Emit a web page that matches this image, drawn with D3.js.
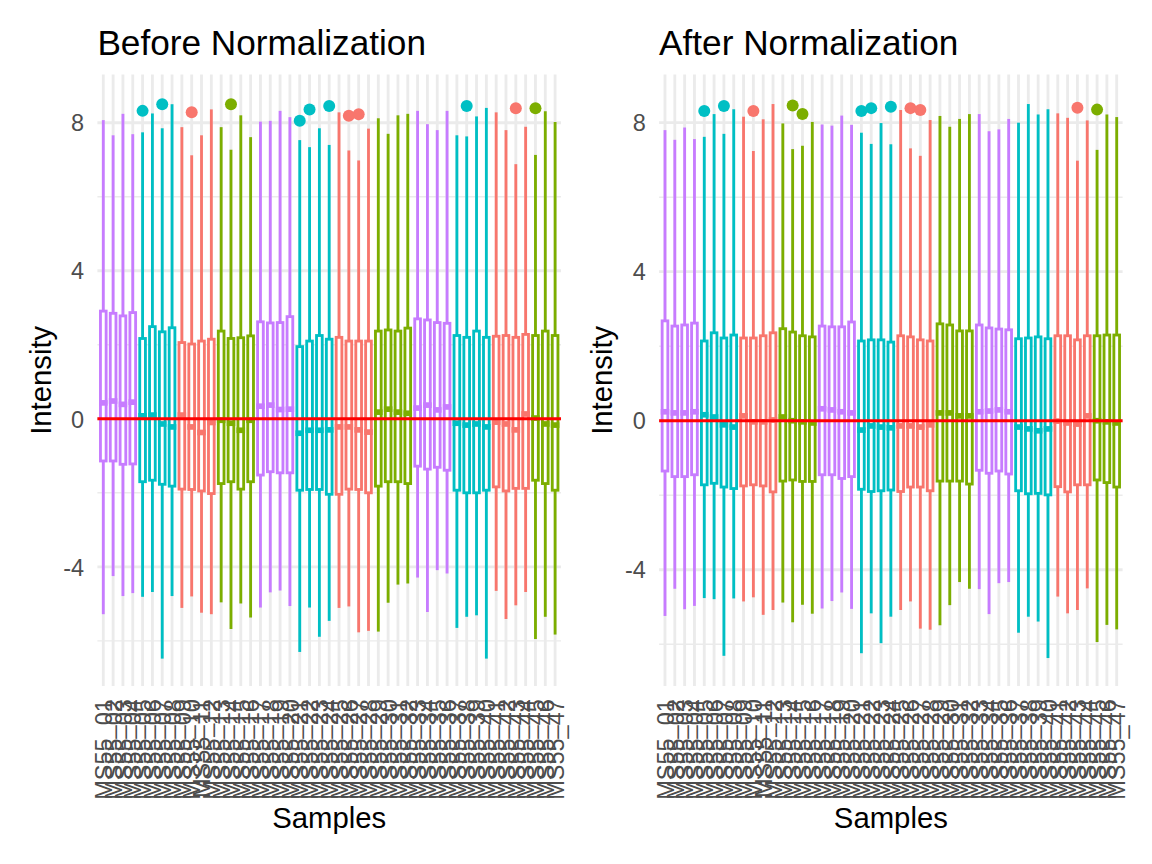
<!DOCTYPE html>
<html><head><meta charset="utf-8">
<script src="https://cdn.jsdelivr.net/npm/d3@7"></script>
<style>body{margin:0;background:#fff}svg{display:block}</style>
</head><body>
<svg id="c" width="1152" height="864"></svg>
<script>
// ---------- data ----------
const samples = d3.range(1, 48).map(i => "MS55_" + String(i).padStart(2, "0"));
const groupOf = [
  "G4","G4","G4","G4","G3","G3","G3","G3","G1","G1","G1","G1","G2","G2","G2","G2",
  "G4","G4","G4","G4","G3","G3","G3","G3","G1","G1","G1","G1","G2","G2","G2","G2",
  "G4","G4","G4","G4","G3","G3","G3","G3","G1","G1","G1","G1","G2","G2","G2"];
const groupNames = ["G1","G2","G3","G4"];
const groupColors = ["#F8766D","#7CAE00","#00BFC4","#C77CFF"];

// Before normalization
const beforeHigh = [8.07,7.66,8.24,7.69,7.74,8.25,7.85,8.50,7.88,7.12,7.66,8.36,7.88,7.27,8.20,7.61,
  8.03,8.05,8.32,8.15,7.53,7.34,7.85,7.40,8.28,7.25,6.98,7.84,8.12,7.70,8.20,8.24,
  8.32,7.96,7.80,8.32,7.66,7.63,8.17,8.40,8.28,7.80,6.88,7.89,7.13,8.31,8.02];
const beforeQ3 = [2.91,2.85,2.78,2.87,2.17,2.49,2.35,2.46,2.06,2.02,2.10,2.15,2.37,2.17,2.19,2.24,
  2.62,2.59,2.60,2.76,1.95,2.10,2.25,2.15,2.20,2.10,2.10,2.10,2.37,2.40,2.37,2.45,
  2.70,2.67,2.60,2.58,2.25,2.20,2.37,2.20,2.23,2.25,2.20,2.28,2.25,2.37,2.25];
const beforeMed = [0.43,0.48,0.39,0.45,0.08,0.10,-0.14,-0.22,0.10,-0.22,-0.37,-0.10,-0.04,-0.12,-0.31,-0.04,
  0.34,0.37,0.25,0.26,-0.39,-0.31,-0.31,-0.30,-0.22,-0.22,-0.30,-0.36,0.18,0.26,0.18,0.15,
  0.29,0.37,0.24,0.32,-0.12,-0.17,-0.14,-0.22,-0.09,-0.14,-0.30,0.13,0.02,-0.14,-0.17];
const beforeQ1 = [-1.14,-1.14,-1.23,-1.22,-1.70,-1.66,-1.77,-1.82,-1.90,-1.91,-1.95,-2.02,-1.75,-1.70,-1.90,-1.70,
  -1.52,-1.43,-1.46,-1.46,-1.93,-1.91,-1.91,-2.04,-2.04,-1.90,-1.91,-2.00,-1.82,-1.70,-1.70,-1.75,
  -1.28,-1.36,-1.31,-1.39,-1.93,-2.00,-2.00,-1.93,-1.84,-1.95,-1.88,-1.88,-1.66,-1.75,-1.93];
const beforeLow = [-5.28,-4.25,-4.79,-4.71,-4.81,-4.68,-6.48,-4.79,-5.11,-4.80,-5.24,-5.28,-4.96,-5.68,-4.99,-5.37,
  -5.10,-4.69,-4.64,-5.06,-6.30,-5.10,-5.89,-5.46,-5.11,-5.07,-5.77,-5.73,-5.75,-4.97,-4.48,-4.45,
  -4.29,-5.22,-4.09,-4.18,-5.65,-5.35,-5.31,-6.48,-4.65,-5.41,-5.04,-4.68,-5.95,-5.35,-5.83];
const beforeOutSample = [5,7,10,14,21,22,24,26,27,38,43,45];
const beforeOutValue  = [8.32,8.50,8.28,8.50,8.05,8.36,8.45,8.19,8.23,8.45,8.39,8.39];

// After normalization
const afterHigh = [7.80,7.54,7.87,7.56,7.62,8.23,7.70,8.36,8.16,7.24,8.09,8.50,7.98,7.29,7.38,8.02,
  7.95,7.92,8.19,7.94,7.73,7.43,7.99,7.42,8.34,7.31,7.11,8.07,8.18,7.89,8.10,8.23,
  8.23,7.77,7.82,8.10,8.00,8.50,8.22,8.36,8.25,8.13,6.98,8.06,7.27,8.22,8.15];
const afterQ3 = [2.68,2.54,2.57,2.62,2.14,2.36,2.22,2.30,2.22,2.22,2.28,2.36,2.47,2.38,2.28,2.25,
  2.54,2.52,2.52,2.65,2.14,2.17,2.17,2.11,2.28,2.25,2.17,2.14,2.60,2.57,2.41,2.41,
  2.57,2.49,2.46,2.44,2.20,2.22,2.25,2.20,2.28,2.28,2.17,2.28,2.28,2.30,2.30];
const afterMed = [0.24,0.21,0.21,0.24,0.16,0.10,-0.11,-0.17,0.13,-0.03,-0.03,0.02,0.10,0.00,-0.03,-0.06,
  0.32,0.29,0.24,0.21,-0.25,-0.14,-0.17,-0.19,-0.14,-0.14,-0.17,-0.11,0.21,0.21,0.13,0.13,
  0.24,0.26,0.29,0.24,-0.17,-0.22,-0.27,-0.22,-0.01,-0.06,-0.09,0.13,0.00,-0.03,-0.06];
const afterQ1 = [-1.35,-1.50,-1.50,-1.45,-1.72,-1.68,-1.78,-1.82,-1.75,-1.72,-1.75,-1.91,-1.62,-1.59,-1.63,-1.63,
  -1.45,-1.45,-1.55,-1.50,-1.84,-1.90,-1.88,-1.86,-1.90,-1.78,-1.78,-1.88,-1.62,-1.62,-1.62,-1.70,
  -1.33,-1.41,-1.35,-1.43,-1.88,-1.96,-1.95,-1.99,-1.77,-1.91,-1.72,-1.72,-1.59,-1.66,-1.78];
const afterLow = [-5.24,-4.51,-5.06,-4.97,-4.76,-4.79,-6.31,-4.77,-4.85,-4.74,-5.21,-5.08,-4.88,-5.41,-4.94,-5.18,
  -5.04,-4.84,-4.61,-5.05,-6.24,-5.17,-5.97,-5.26,-5.08,-4.85,-5.58,-5.61,-5.49,-4.95,-4.33,-4.51,
  -4.52,-5.19,-4.36,-4.33,-5.69,-5.26,-5.39,-6.37,-4.72,-5.17,-5.08,-4.50,-5.94,-5.48,-5.60];
const afterOutSample = [5,7,10,14,15,21,22,24,26,27,43,45];
const afterOutValue  = [8.31,8.45,8.31,8.46,8.23,8.31,8.39,8.43,8.39,8.34,8.40,8.35];

const yMajor = [-4, 0, 4, 8];
const yMinor = [-6, -2, 2, 6];
const refLine = 0;

// ---------- drawing ----------
const svg = d3.select("#c");
const color = d3.scaleOrdinal().domain(groupNames).range(groupColors);
const FONT = "'Liberation Sans', Arial, Helvetica, sans-serif";
const LW = 2.84;

function panel(o) {
  const g = svg.append("g");
  const x = d3.scalePoint().domain(samples).range([o.x0, o.x1]).padding(0.6);
  const y = d3.scaleLinear().domain(o.yDomain).range([o.yBottom, o.yTop]);
  const step = x.step();
  const bw = step * 0.58;

  // grid
  g.selectAll(".gmin").data(yMinor).join("line")
    .attr("x1", o.x0).attr("x2", o.x1).attr("y1", d => y(d)).attr("y2", d => y(d))
    .attr("stroke", "#EBEBEB").attr("stroke-width", LW / 2);
  g.selectAll(".gmaj").data(yMajor).join("line")
    .attr("x1", o.x0).attr("x2", o.x1).attr("y1", d => y(d)).attr("y2", d => y(d))
    .attr("stroke", "#EBEBEB").attr("stroke-width", LW);
  g.selectAll(".gx").data(samples).join("line")
    .attr("x1", d => x(d)).attr("x2", d => x(d)).attr("y1", o.yTop).attr("y2", o.yBottom)
    .attr("stroke", "#EBEBEB").attr("stroke-width", LW);

  const rows = samples.map((s, i) => ({
    s, grp: groupOf[i], lo: o.low[i], q1: o.q1[i], med: o.med[i], q3: o.q3[i], hi: o.high[i]
  }));
  const bx = g.selectAll(".box").data(rows).join("g");
  bx.append("line").attr("x1", d => x(d.s)).attr("x2", d => x(d.s))
    .attr("y1", d => y(d.q3)).attr("y2", d => y(d.hi))
    .attr("stroke", d => color(d.grp)).attr("stroke-width", LW);
  bx.append("line").attr("x1", d => x(d.s)).attr("x2", d => x(d.s))
    .attr("y1", d => y(d.q1)).attr("y2", d => y(d.lo))
    .attr("stroke", d => color(d.grp)).attr("stroke-width", LW);
  bx.append("rect").attr("x", d => x(d.s) - bw / 2).attr("width", bw)
    .attr("y", d => y(d.q3)).attr("height", d => y(d.q1) - y(d.q3))
    .attr("fill", "#fff").attr("stroke", d => color(d.grp)).attr("stroke-width", LW);
  bx.append("line").attr("x1", d => x(d.s) - bw / 2 - LW / 2).attr("x2", d => x(d.s) + bw / 2 + LW / 2)
    .attr("y1", d => y(d.med)).attr("y2", d => y(d.med))
    .attr("stroke", d => color(d.grp)).attr("stroke-width", LW * 2);

  const outs = o.outS.map((k, j) => ({ s: samples[k - 1], grp: groupOf[k - 1], v: o.outV[j] }));
  g.selectAll(".out").data(outs).join("circle")
    .attr("cx", d => x(d.s)).attr("cy", d => y(d.v)).attr("r", 6)
    .attr("fill", d => color(d.grp));

  // reference line
  g.append("line").attr("x1", o.x0).attr("x2", o.x1)
    .attr("y1", y(refLine)).attr("y2", y(refLine))
    .attr("stroke", "#FF0000").attr("stroke-width", LW);

  // y axis (no ticks/line, like theme_minimal)
  const ya = g.append("g").attr("transform", `translate(${o.x0 - 13.2},0)`)
    .call(d3.axisLeft(y).tickValues(yMajor).tickSize(0).tickPadding(0).tickFormat(d => String(d)));
  ya.select(".domain").remove();
  ya.selectAll("text").attr("font-family", FONT).attr("font-size", 23.5).attr("fill", "#4D4D4D")
    .attr("dy", "0.35em");

  // x axis labels
  const xa = g.append("g").attr("transform", `translate(0,${o.yBottom + 13.2})`)
    .call(d3.axisBottom(x).tickSize(0).tickPadding(0));
  xa.select(".domain").remove();
  xa.selectAll("text").attr("font-family", FONT).attr("font-size", 23.5).attr("fill", "#4D4D4D")
    .attr("text-anchor", "end").attr("dy", "0.35em").attr("y", 0)
    .attr("transform", "rotate(-90)");

  // titles
  g.append("text").attr("x", o.x0).attr("y", 55).text(o.title)
    .attr("font-family", FONT).attr("font-size", 35.2).attr("fill", "#000");
  g.append("text").attr("transform", `translate(${o.x0 - 46.9},${(o.yTop + o.yBottom) / 2}) rotate(-90)`)
    .attr("text-anchor", "middle").text("Intensity")
    .attr("font-family", FONT).attr("font-size", 29.3).attr("fill", "#000");
  g.append("text").attr("x", (o.x0 + o.x1) / 2).attr("y", 828).attr("text-anchor", "middle")
    .text("Samples").attr("font-family", FONT).attr("font-size", 29.3).attr("fill", "#000");
}

panel({ x0: 97.4, x1: 561, yTop: 74.6, yBottom: 686, yDomain: [-7.22, 9.3],
  title: "Before Normalization",
  low: beforeLow, q1: beforeQ1, med: beforeMed, q3: beforeQ3, high: beforeHigh,
  outS: beforeOutSample, outV: beforeOutValue });
panel({ x0: 659.1, x1: 1122.6, yTop: 74.6, yBottom: 686, yDomain: [-7.12, 9.29],
  title: "After Normalization",
  low: afterLow, q1: afterQ1, med: afterMed, q3: afterQ3, high: afterHigh,
  outS: afterOutSample, outV: afterOutValue });
</script>
</body></html>
